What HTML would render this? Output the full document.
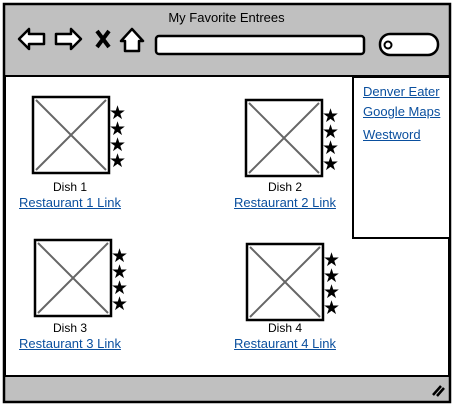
<!DOCTYPE html>
<html><head><meta charset="utf-8"><style>
body{margin:0;width:453px;height:408px;background:#fff;overflow:hidden;font-family:"Liberation Sans",sans-serif;}
.abs{position:absolute}
.t{font-size:12px;color:#000;}
.lnk{font-size:13px;color:#0a4f9e;text-decoration:underline;}
</style></head><body>
<svg width="453" height="408" style="position:absolute;left:0;top:0">
<rect x="4" y="4" width="446" height="398" fill="#c0c0c0" stroke="#000" stroke-width="2.5"/>
<rect x="5" y="76" width="444" height="300" fill="#fff" stroke="#000" stroke-width="2"/>
<g><path d="M19,39 L29,29 L29,34 L44,34 L44,44 L29,44 L29,49 Z" fill="#fff" stroke="#000" stroke-width="2.5" stroke-linejoin="round"/></g>
<g><path d="M81,39 L71,29 L71,34 L56,34 L56,44 L71,44 L71,49 Z" fill="#fff" stroke="#000" stroke-width="2.5" stroke-linejoin="round"/></g>
<g><path d="M97,31 L109,47 M109,31 L97,47" stroke="#000" stroke-width="4"/></g>
<g><path d="M132,29 L143,41 L139,41 L139,51 L125,51 L125,41 L121,41 Z" fill="#fff" stroke="#000" stroke-width="2.5" stroke-linejoin="round"/></g>
<rect x="156" y="36" width="208" height="18" rx="3" fill="#fff" stroke="#000" stroke-width="2.5"/>
<rect x="380" y="34" width="58" height="21" rx="10" fill="#fff" stroke="#000" stroke-width="2.5"/>
<circle cx="388" cy="45" r="3.5" fill="none" stroke="#000" stroke-width="2"/>
<path d="M433,395 L441,386 M437,396 L444,388" stroke="#000" stroke-width="2.5"/>
<rect x="353" y="77" width="97" height="161" fill="#fff" stroke="#000" stroke-width="2"/>
<g id="imgs"></g>
</svg>
<div class="abs t" style="left:0;width:453px;top:10px;text-align:center;font-size:13px">My Favorite Entrees</div>
<div class="abs lnk" style="left:363px;top:84px">Denver Eater</div>
<div class="abs lnk" style="left:363px;top:104px">Google Maps</div>
<div class="abs lnk" style="left:363px;top:127px">Westword</div>
<div id="labels"></div>
<script>
const dishes=["Dish 1","Dish 2","Dish 3","Dish 4"];
const links=["Restaurant 1 Link","Restaurant 2 Link","Restaurant 3 Link","Restaurant 4 Link"];
const stars=[4,4,4,4];
const boxes=[[33,97],[246,100],[35,240],[247,244]];
const labelCenters=[70,285,70,285];
const labelTops=[180,180,321,321];
const ns="http://www.w3.org/2000/svg";
const g=document.getElementById('imgs');
const L=document.getElementById('labels');
for(let i=0;i<dishes.length;i++){
  const [x,y]=boxes[i];
  const r=document.createElementNS(ns,'g');
  
  
  r.innerHTML=`<rect x="${x}" y="${y}" width="76" height="76" fill="#fff" stroke="#000" stroke-width="2.5"/><path d="M${x+3},${y+3} L${x+73},${y+73} M${x+73},${y+3} L${x+3},${y+73}" stroke="#666" stroke-width="2"/>`;
  g.appendChild(r);
  for(let s=0;s<stars[i];s++){
    const st=document.createElementNS(ns,'text');
    st.setAttribute('x',x+76);st.setAttribute('y',y+22+s*16);
    st.setAttribute('font-size','19');st.setAttribute('font-family','DejaVu Sans');
    st.textContent='★';
    
    
    g.appendChild(st);
  }
  const d=document.createElement('div');
  d.className='abs t';d.style.left=(labelCenters[i]-60)+'px';d.style.width='120px';d.style.textAlign='center';d.style.top=labelTops[i]+'px';
  d.textContent=dishes[i];
  
  
  L.appendChild(d);
  const a=document.createElement('div');
  a.className='abs lnk';a.style.left=(labelCenters[i]-65)+'px';a.style.width='130px';a.style.textAlign='center';a.style.top=(labelTops[i]+15)+'px';
  a.textContent=links[i];
  
  
  L.appendChild(a);
}
</script>
</body></html>
